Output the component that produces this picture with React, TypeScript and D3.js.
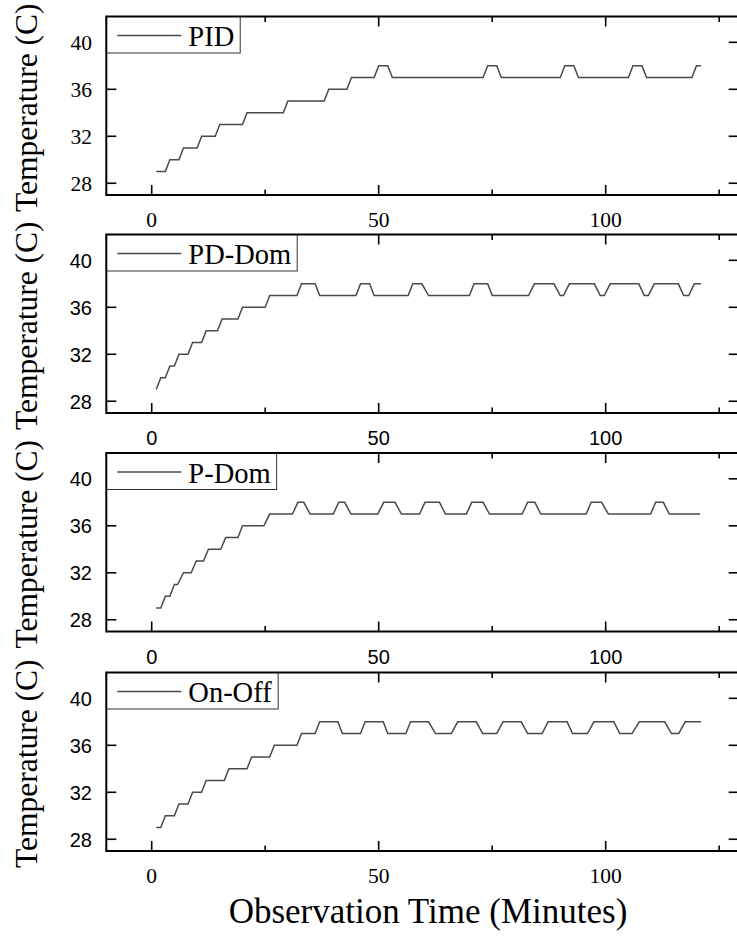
import React from "react";
import * as d3 from "d3";

// x axis (minutes) and y axis (temperature) ticks
const xMajorTicks = [0, 50, 100];
const xMinorTicks = [25, 75, 125];
const yTicks = [28, 32, 36, 40];

const seriesNames = ["PID", "PD-Dom", "P-Dom", "On-Off"];

// vertices of each trace, [minute, temperature]
const pidData = [
  [1, 29], [3, 29], [4, 30], [6, 30], [7, 31], [10, 31], [11, 32], [14, 32],
  [15, 33], [20, 33], [21, 34], [29, 34], [30, 35], [38, 35], [39, 36], [43, 36],
  [44, 37], [49, 37], [50, 38], [52, 38], [53, 37], [73, 37], [74, 38], [76, 38],
  [77, 37], [90, 37], [91, 38], [93, 38], [94, 37], [105, 37], [106, 38], [108, 38],
  [109, 37], [119, 37], [120, 38], [121, 38],
];

const pdDomData = [
  [1, 29], [2, 30], [3, 30], [4, 31], [5, 31], [6, 32], [8, 32], [9, 33],
  [11, 33], [12, 34], [14.5, 34], [15.5, 35], [19, 35], [20, 36], [25, 36], [26, 37],
  [32, 37], [33, 38], [36, 38], [37, 37], [45, 37], [46, 38], [48, 38], [49, 37],
  [56.5, 37], [57.5, 38], [59.5, 38], [61, 37], [70, 37], [71, 38], [74, 38], [75, 37],
  [83, 37], [84.3, 38], [88.6, 38], [90, 37], [90.7, 37], [92, 38], [97.5, 38], [98.8, 37],
  [99.7, 37], [101, 38], [107.3, 38], [108.5, 37], [109.4, 37], [110.7, 38], [116, 38],
  [117.2, 37], [118.3, 37], [119.5, 38], [121, 38],
];

const pDomData = [
  [1, 29], [2, 29], [3, 30], [4, 30], [5, 31], [5.7, 31], [7, 32], [8.7, 32],
  [9.8, 33], [11.4, 33], [12.5, 34], [15.2, 34], [16.3, 35], [19, 35], [20, 36], [24.7, 36],
  [26, 37], [31, 37], [32.2, 38], [33.5, 38], [34.9, 37], [40, 37], [41.2, 38], [42.5, 38],
  [43.9, 37], [49.8, 37], [51.1, 38], [53.6, 38], [55, 37], [59, 37], [60.2, 38], [63.4, 38],
  [64.7, 37], [69.3, 37], [70.5, 38], [73, 38], [74.4, 37], [81.6, 37], [82.8, 38], [84.4, 38],
  [85.7, 37], [95.7, 37], [96.8, 38], [99.1, 38], [100.6, 37], [109.9, 37], [111, 38],
  [112.7, 38], [114, 37], [120.8, 37],
];

const onOffData = [
  [1, 29], [2, 29], [3, 30], [5, 30], [6, 31], [8, 31], [9, 32], [11, 32],
  [12, 33], [16, 33], [17, 34], [21, 34], [22, 35], [26, 35], [27, 36], [32, 36],
  [33, 37], [36, 37], [37, 38], [41, 38], [42, 37], [46, 37], [47, 38], [51, 38],
  [52, 37], [56, 37], [57, 38], [61, 38], [62.5, 37], [66, 37], [67.4, 38], [71.5, 38],
  [72.9, 37], [76, 37], [77.4, 38], [81.4, 38], [82.8, 37], [86, 37], [87.3, 38], [91.5, 38],
  [92.7, 37], [96, 37], [97.4, 38], [101.8, 38], [103.1, 37], [105.8, 37], [107.4, 38],
  [113, 38], [114.5, 37], [116.1, 37], [117.5, 38], [121, 38],
];

const allData = [pidData, pdDomData, pDomData, onOffData];

const W = 737;
const H = 937;
const panelTops = [16.5, 234.5, 453, 672.5];
const panelH = 178.5;
const serif = "'Liberation Serif', 'Times New Roman', serif";
const sans = "'Liberation Sans', Arial, sans-serif";
// the tick label fonts are not the same in every panel of the original
const yTickFonts = [serif, sans, sans, sans];
const xTickFonts = [serif, sans, sans, serif];
const legendFont = 28.5;

const x = d3.scaleLinear().domain([-10, 129.3]).range([106.3, 738.7]);

function Panel({ idx }: { idx: number }) {
  const top = panelTops[idx];
  const bottom = top + panelH;
  const y = d3.scaleLinear().domain([27, 42.2]).range([bottom, top]);
  const line = d3
    .line<number[]>()
    .x((d) => x(d[0]))
    .y((d) => y(d[1]));
  const [x0, x1] = x.range();
  const name = seriesNames[idx];

  // legend box width: sample line + text (Times metrics, em units)
  const em: Record<string, number> = { PID: 1.611, "PD-Dom": 3.611, "P-Dom": 2.889, "On-Off": 2.943 };
  const lgRight = x0 + 82 + em[name] * legendFont + 6;
  const lgBottom = top + 36.5;
  const midY = top + 19;

  return (
    <g>
      <path d={line(allData[idx] as number[][]) || ""} fill="none" stroke="#4a4a4a" strokeWidth={1.5} />
      {xMajorTicks.map((t) => (
        <g key={"M" + t}>
          <line x1={x(t)} x2={x(t)} y1={bottom} y2={bottom - 10} stroke="#000" strokeWidth={1.6} />
          <line x1={x(t)} x2={x(t)} y1={top} y2={top + 10} stroke="#000" strokeWidth={1.6} />
          <text
            x={x(t)}
            y={bottom + 32}
            textAnchor="middle"
            fontFamily={xTickFonts[idx]}
            fontSize={xTickFonts[idx] === serif ? 21.5 : 20}
            fill="#000"
          >
            {t}
          </text>
        </g>
      ))}
      {xMinorTicks.map((t) => (
        <g key={"m" + t}>
          <line x1={x(t)} x2={x(t)} y1={bottom} y2={bottom - 5.5} stroke="#000" strokeWidth={1.6} />
          <line x1={x(t)} x2={x(t)} y1={top} y2={top + 5.5} stroke="#000" strokeWidth={1.6} />
        </g>
      ))}
      {yTicks.map((t) => (
        <g key={"y" + t}>
          <line x1={x0} x2={x0 + 10} y1={y(t)} y2={y(t)} stroke="#000" strokeWidth={1.6} />
          <line x1={x1} x2={x1 - 10} y1={y(t)} y2={y(t)} stroke="#000" strokeWidth={1.6} />
          <text
            x={92}
            y={y(t) + 7.5}
            textAnchor="end"
            fontFamily={yTickFonts[idx]}
            fontSize={yTickFonts[idx] === serif ? 21.5 : 20}
            fill="#000"
          >
            {t}
          </text>
        </g>
      ))}
      {/* legend */}
      <rect x={x0} y={top} width={lgRight - x0} height={lgBottom - top} fill="#fff" stroke="#333" strokeWidth={1} />
      <rect x={x0} y={top} width={x1 - x0} height={panelH} fill="none" stroke="#000" strokeWidth={2} />
      <line x1={x0 + 11} x2={x0 + 75} y1={midY} y2={midY} stroke="#4a4a4a" strokeWidth={1.4} />
      <text x={x0 + 82} y={top + 29.5} fontFamily={serif} fontSize={legendFont} fill="#000">
        {name}
      </text>
      <text
        transform={`translate(37, ${(top + bottom) / 2 + 2}) rotate(-90)`}
        textAnchor="middle"
        fontFamily={serif}
        fontSize={31.5}
        fill="#000"
      >
        Temperature (C)
      </text>
    </g>
  );
}

export default function App() {
  return (
    <div style={{ position: "absolute", left: 0, top: 0 }}>
      <svg width={W} height={H} style={{ display: "block", background: "#fff" }}>
        {seriesNames.map((_, i) => (
          <Panel key={i} idx={i} />
        ))}
        <text x={428} y={923} textAnchor="middle" fontFamily={serif} fontSize={35} fill="#000">
          Observation Time (Minutes)
        </text>
      </svg>
    </div>
  );
}
